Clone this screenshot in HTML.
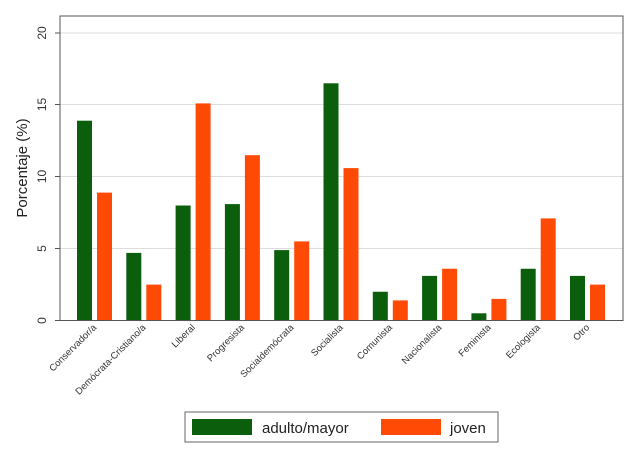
<!DOCTYPE html><html><head><meta charset="utf-8"><style>body{margin:0;background:#fff}</style></head><body>
<svg width="640" height="464" xmlns="http://www.w3.org/2000/svg" font-family="Liberation Sans, Arial, sans-serif">
<rect width="640" height="464" fill="#fff"/>
<g stroke="#ddd" stroke-width="1">
<line x1="60" x2="623" y1="248.5" y2="248.5"/><line x1="60" x2="623" y1="176.5" y2="176.5"/><line x1="60" x2="623" y1="104.5" y2="104.5"/><line x1="60" x2="623" y1="33" y2="33"/>
</g>
<g fill="#0b5e0b">
<rect x="77" y="120.7" width="15" height="199.8"/>
<rect x="126.3" y="252.9" width="15" height="67.6"/>
<rect x="175.6" y="205.5" width="15" height="115"/>
<rect x="224.9" y="204.1" width="15" height="116.4"/>
<rect x="274.2" y="250.1" width="15" height="70.4"/>
<rect x="323.5" y="83.3" width="15" height="237.2"/>
<rect x="372.8" y="291.75" width="15" height="28.75"/>
<rect x="422.1" y="275.9" width="15" height="44.6"/>
<rect x="471.4" y="313.3" width="15" height="7.2"/>
<rect x="520.7" y="268.75" width="15" height="51.75"/>
<rect x="570" y="275.9" width="15" height="44.6"/>
</g>
<g fill="#ff4a05">
<rect x="97" y="192.6" width="15" height="127.9"/>
<rect x="146.3" y="284.6" width="15" height="35.9"/>
<rect x="195.6" y="103.4" width="15" height="217.1"/>
<rect x="244.9" y="155.2" width="15" height="165.3"/>
<rect x="294.2" y="241.4" width="15" height="79.1"/>
<rect x="343.5" y="168.1" width="15" height="152.4"/>
<rect x="392.8" y="300.4" width="15" height="20.1"/>
<rect x="442.1" y="268.75" width="15" height="51.75"/>
<rect x="491.4" y="298.9" width="15" height="21.6"/>
<rect x="540.7" y="218.4" width="15" height="102.1"/>
<rect x="590" y="284.6" width="15" height="35.9"/>
</g>
<rect x="60" y="16" width="563" height="304.5" fill="none" stroke="#555" stroke-width="1"/>
<g stroke="#555"><line x1="55" x2="60" y1="320.5" y2="320.5"/><line x1="55" x2="60" y1="248.5" y2="248.5"/><line x1="55" x2="60" y1="176.5" y2="176.5"/><line x1="55" x2="60" y1="104.5" y2="104.5"/><line x1="55" x2="60" y1="33" y2="33"/></g>
<g font-size="12" fill="#333" text-anchor="middle">
<text transform="translate(46,320.5) rotate(-90)">0</text>
<text transform="translate(46,248.5) rotate(-90)">5</text>
<text transform="translate(46,176.5) rotate(-90)">10</text>
<text transform="translate(46,104.5) rotate(-90)">15</text>
<text transform="translate(46,33) rotate(-90)">20</text>
</g>
<text transform="translate(27,168) rotate(-90)" font-size="15" fill="#222" text-anchor="middle">Porcentaje (%)</text>
<g font-size="9.5" fill="#333" text-anchor="end">
<text transform="translate(97,328) rotate(-45)">Conservador/a</text>
<text transform="translate(146.3,328) rotate(-45)">Demócrata-Cristiano/a</text>
<text transform="translate(195.6,328) rotate(-45)">Liberal</text>
<text transform="translate(244.9,328) rotate(-45)">Progresista</text>
<text transform="translate(294.2,328) rotate(-45)">Socialdemócrata</text>
<text transform="translate(343.5,328) rotate(-45)">Socialista</text>
<text transform="translate(392.8,328) rotate(-45)">Comunista</text>
<text transform="translate(442.1,328) rotate(-45)">Nacionalista</text>
<text transform="translate(491.4,328) rotate(-45)">Feminista</text>
<text transform="translate(540.7,328) rotate(-45)">Ecologista</text>
<text transform="translate(590,328) rotate(-45)">Otro</text>
</g>
<rect x="185" y="412" width="313" height="30" fill="#fff" stroke="#666"/>
<rect x="192" y="419" width="60" height="16" fill="#0b5e0b"/>
<text x="262" y="433" font-size="15" fill="#222">adulto/mayor</text>
<rect x="381" y="419" width="60" height="16" fill="#ff4a05"/>
<text x="450" y="433" font-size="15" fill="#222">joven</text>
</svg></body></html>
